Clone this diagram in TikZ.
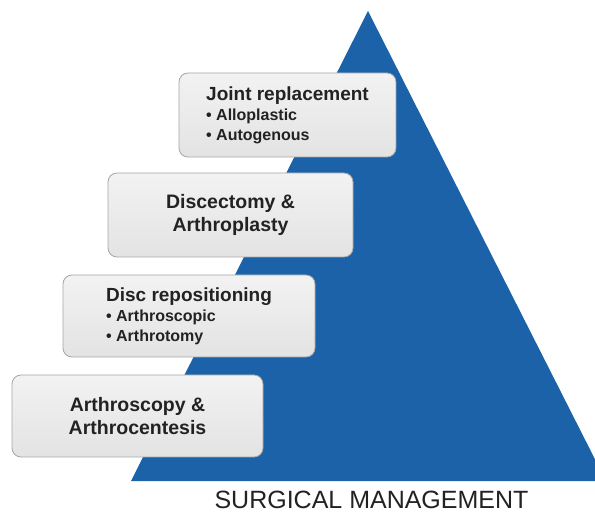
\documentclass[tikz,border=0pt]{standalone}
\usepackage{fontspec}
\setmainfont{Liberation Sans}
\usepackage{xcolor}
\usepackage{tikz}

\definecolor{pyramidblue}{HTML}{1B62A8}
\definecolor{boxedge}{HTML}{A6A6A6}
\definecolor{labelgray}{HTML}{222222}

\begin{document}
\begin{tikzpicture}[x=1pt, y=1pt,
    tierbox/.style={draw=boxedge, line width=0.8pt, rounded corners=9pt,
        top color=gray!10, bottom color=gray!22, text=labelgray, inner sep=0pt},
    tierbig/.style={font=\bfseries\fontsize{19.5}{23}\selectfont},
    tiersmall/.style={font=\bfseries\fontsize{16}{20}\selectfont}]
    % Define frame
    \useasboundingbox (0,0) rectangle (595,512);
    \clip (0,0) rectangle (595,512);

    % Define pyramid corners
    \coordinate (Apex) at (368,501);
    \coordinate (BaseL) at (131,31);
    \coordinate (BaseR) at (606,31);

    % Draw pyramid
    \fill[pyramidblue] (Apex) -- (BaseL) -- (BaseR) -- cycle;

    % Draw tiers (bottom to top)
    \node[tierbox, tierbig, minimum width=251pt, minimum height=82pt, align=center]
        (Arthroscopy) at (137.5,96) {Arthroscopy \&\\Arthrocentesis};
    \node[tierbox, tiersmall, minimum width=252pt, minimum height=82pt, align=left]
        (Repositioning) at (189,196)
        {{\fontsize{19}{20}\selectfont Disc repositioning}\\ • Arthroscopic\\ • Arthrotomy};
    \node[tierbox, tierbig, minimum width=245pt, minimum height=84pt, align=center]
        (Discectomy) at (230.5,297) {Discectomy \&\\Arthroplasty};
    \node[tierbox, tiersmall, minimum width=217pt, minimum height=84pt, align=left]
        (Replacement) at (287.5,397)
        {{\fontsize{19}{20}\selectfont Joint replacement}\\ • Alloplastic\\ • Autogenous};

    % Annotate the pyramid
    \node[anchor=base, text=labelgray, font=\fontsize{25}{28}\selectfont, inner sep=0pt]
        (Title) at (371.5,4) {SURGICAL MANAGEMENT};
\end{tikzpicture}
\end{document}
